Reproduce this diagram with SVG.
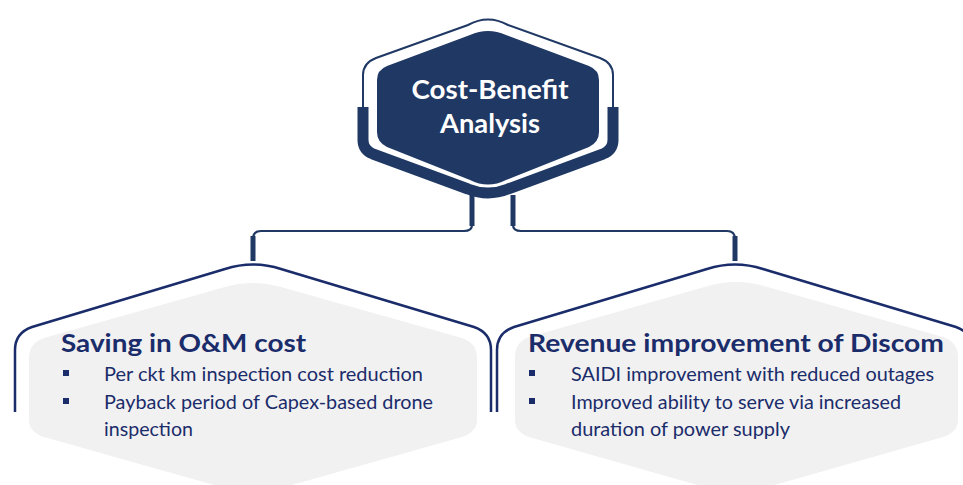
<svg xmlns="http://www.w3.org/2000/svg" width="963" height="485" viewBox="0 0 963 485">
<style>
.outl{fill:none;stroke:#1b2c6b;stroke-width:2.5}
.grey{fill:#f1f1f1}
.conn{fill:none;stroke:#1f3864;stroke-width:2.2}
.connT{fill:none;stroke:#1f3864;stroke-width:5}
.ttl{font-family:Lato,"Liberation Sans",sans-serif;font-weight:700;font-size:25px;fill:#1b2c6b}
.bt{font-family:Lato,"Liberation Sans",sans-serif;font-size:20px;fill:#1b2c6b}
.ct{font-family:Lato,"Liberation Sans",sans-serif;font-weight:700;font-size:26px;fill:#ffffff}
.bul{fill:#1b2c6b}
</style>
<rect width="963" height="485" fill="#ffffff"/>
<g id="connectors">
<path class="conn" d="M472,197 V225 Q472,231 464,231 H261 Q253,231 253,239 V261"/>
<path class="connT" d="M472,195 V226"/>
<path class="connT" d="M253,236 V261"/>
<path class="conn" d="M513,197 V225 Q513,231 521,231 H727 Q735,231 735,239 V261"/>
<path class="connT" d="M513,195 V226"/>
<path class="connT" d="M735,236 V261"/>
</g>
<g id="cost-benefit">
<path fill="none" stroke="#1f3864" stroke-width="2" d="M468,25 Q488,14 508,25 L600,58 Q613,63 613,75 V140 Q613,150 603,154 L508,189 Q488,197 468,189 L373,154 Q363,150 363,140 V75 Q363,63 376,58 Z"/>
<path fill="none" stroke="#1f3864" stroke-width="11" d="M363,107 V140 Q363,150 373,154 L468,189 Q488,197 508,189 L603,154 Q613,150 613,140 V107"/>
<path fill="#1f3864" d="M470,35 Q488,27 506,35 L589,66 Q599,70 599,80 V132 Q599,142 589,147 L506,180 Q488,189 470,180 L387,147 Q377,142 377,132 V80 Q377,70 387,66 Z"/>
<text class="ct" x="490" y="99" text-anchor="middle" textLength="157" lengthAdjust="spacingAndGlyphs">Cost-Benefit</text>
<text class="ct" x="490" y="133" text-anchor="middle" textLength="100" lengthAdjust="spacingAndGlyphs">Analysis</text>
</g>
<g id="saving">
<path class="grey" d="M225,287 Q253,279 281,287 L462,338 Q477,343 477,358 V420 Q477,432 462,437 L253,496 L44,437 Q29,432 29,420 V358 Q29,343 44,338 Z"/>
<path class="outl" d="M15,412 V350 Q15,333 32,327 L225,269 Q253,260 281,269 L474,327 Q491,333 491,350 V412"/>
<text class="ttl" x="61" y="352" textLength="245" lengthAdjust="spacingAndGlyphs">Saving in O&amp;M cost</text>
<rect class="bul" x="63" y="370" width="6" height="6"/>
<rect class="bul" x="63" y="398" width="6" height="6"/>
<text class="bt" x="104" y="381" textLength="319" lengthAdjust="spacingAndGlyphs">Per ckt km inspection cost reduction</text>
<text class="bt" x="104" y="409" textLength="329" lengthAdjust="spacingAndGlyphs">Payback period of Capex-based drone</text>
<text class="bt" x="104" y="436" textLength="89" lengthAdjust="spacingAndGlyphs">inspection</text>
</g>
<g id="revenue">
<path class="grey" d="M708,286 Q736,278 764,286 L943,337 Q958,342 958,357 V420 Q958,432 943,437 L736,496 L529,437 Q515,432 515,420 V357 Q515,342 529,337 Z"/>
<path class="outl" d="M497,412 V350 Q497,333 514,327 L707,269 Q735,260 763,269 L956,327 Q973,333 973,350 V412"/>
<text class="ttl" x="528" y="352" textLength="416" lengthAdjust="spacingAndGlyphs">Revenue improvement of Discom</text>
<rect class="bul" x="529" y="370" width="6" height="6"/>
<rect class="bul" x="529" y="398" width="6" height="6"/>
<text class="bt" x="571" y="381" textLength="363" lengthAdjust="spacingAndGlyphs">SAIDI improvement with reduced outages</text>
<text class="bt" x="571" y="409" textLength="330" lengthAdjust="spacingAndGlyphs">Improved ability to serve via increased</text>
<text class="bt" x="571" y="436" textLength="219" lengthAdjust="spacingAndGlyphs">duration of power supply</text>
</g>
</svg>
